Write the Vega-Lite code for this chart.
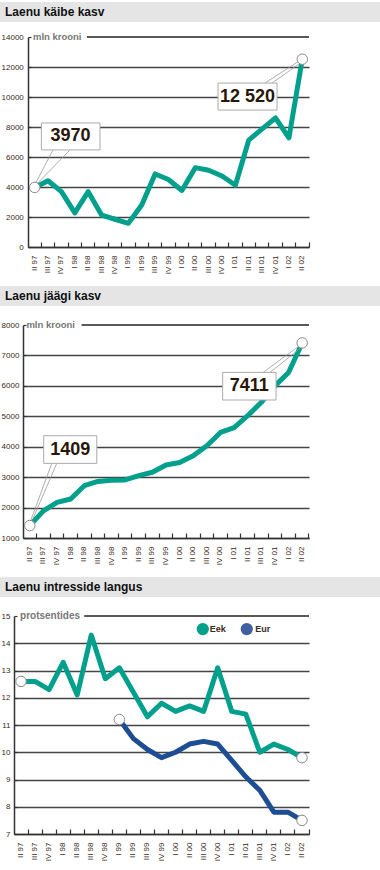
{
  "$schema": "https://vega.github.io/schema/vega-lite/v6.json",
  "padding": {"left": 0, "top": 2, "right": 0, "bottom": 0},
  "background": "white",
  "config": {
    "font": "Liberation Sans",
    "view": {"stroke": null},
    "axis": {"labelFont": "Liberation Sans", "labelOverlap": false}
  },
  "datasets": {
    "kaive": [
      {"q": "II 97", "v": 3970}, {"q": "III 97", "v": 4420}, {"q": "IV 97", "v": 3690},
      {"q": "I 98", "v": 2270}, {"q": "II 98", "v": 3690}, {"q": "III 98", "v": 2130},
      {"q": "IV 98", "v": 1850}, {"q": "I 99", "v": 1580}, {"q": "II 99", "v": 2800},
      {"q": "III 99", "v": 4870}, {"q": "IV 99", "v": 4500}, {"q": "I 00", "v": 3770},
      {"q": "II 00", "v": 5290}, {"q": "III 00", "v": 5120}, {"q": "IV 00", "v": 4730},
      {"q": "I 01", "v": 4120}, {"q": "II 01", "v": 7130}, {"q": "III 01", "v": 7870},
      {"q": "IV 01", "v": 8600}, {"q": "I 02", "v": 7280}, {"q": "II 02", "v": 12520}
    ],
    "jaak": [
      {"q": "II 97", "v": 1409}, {"q": "III 97", "v": 1890}, {"q": "IV 97", "v": 2170},
      {"q": "I 98", "v": 2280}, {"q": "II 98", "v": 2720}, {"q": "III 98", "v": 2860},
      {"q": "IV 98", "v": 2900}, {"q": "I 99", "v": 2910}, {"q": "II 99", "v": 3050},
      {"q": "III 99", "v": 3160}, {"q": "IV 99", "v": 3400}, {"q": "I 00", "v": 3480},
      {"q": "II 00", "v": 3700}, {"q": "III 00", "v": 4030}, {"q": "IV 00", "v": 4470},
      {"q": "I 01", "v": 4630}, {"q": "II 01", "v": 5020}, {"q": "III 01", "v": 5460},
      {"q": "IV 01", "v": 6000}, {"q": "I 02", "v": 6440}, {"q": "II 02", "v": 7411}
    ],
    "intress": [
      {"q": "II 97", "s": "Eek", "v": 12.6}, {"q": "III 97", "s": "Eek", "v": 12.6},
      {"q": "IV 97", "s": "Eek", "v": 12.3}, {"q": "I 98", "s": "Eek", "v": 13.3},
      {"q": "II 98", "s": "Eek", "v": 12.1}, {"q": "III 98", "s": "Eek", "v": 14.3},
      {"q": "IV 98", "s": "Eek", "v": 12.7}, {"q": "I 99", "s": "Eek", "v": 13.1},
      {"q": "II 99", "s": "Eek", "v": 12.2}, {"q": "III 99", "s": "Eek", "v": 11.3},
      {"q": "IV 99", "s": "Eek", "v": 11.8}, {"q": "I 00", "s": "Eek", "v": 11.5},
      {"q": "II 00", "s": "Eek", "v": 11.7}, {"q": "III 00", "s": "Eek", "v": 11.5},
      {"q": "IV 00", "s": "Eek", "v": 13.1}, {"q": "I 01", "s": "Eek", "v": 11.5},
      {"q": "II 01", "s": "Eek", "v": 11.4}, {"q": "III 01", "s": "Eek", "v": 10.0},
      {"q": "IV 01", "s": "Eek", "v": 10.3}, {"q": "I 02", "s": "Eek", "v": 10.1},
      {"q": "II 02", "s": "Eek", "v": 9.8},
      {"q": "I 99", "s": "Eur", "v": 11.2}, {"q": "II 99", "s": "Eur", "v": 10.5},
      {"q": "III 99", "s": "Eur", "v": 10.1}, {"q": "IV 99", "s": "Eur", "v": 9.8},
      {"q": "I 00", "s": "Eur", "v": 10.0}, {"q": "II 00", "s": "Eur", "v": 10.3},
      {"q": "III 00", "s": "Eur", "v": 10.4}, {"q": "IV 00", "s": "Eur", "v": 10.3},
      {"q": "I 01", "s": "Eur", "v": 9.7}, {"q": "II 01", "s": "Eur", "v": 9.1},
      {"q": "III 01", "s": "Eur", "v": 8.6}, {"q": "IV 01", "s": "Eur", "v": 7.8},
      {"q": "I 02", "s": "Eur", "v": 7.8}, {"q": "II 02", "s": "Eur", "v": 7.5}
    ]
  },
  "spacing": 12,
  "vconcat": [
    {
      "spacing": 10,
      "vconcat": [
        {
          "data": {"values": [{"t": "Laenu käibe kasv"}]},
          "width": 380, "height": 20,
          "view": {"fill": "#e5e5e5", "stroke": null},
          "mark": {"type": "text", "align": "left", "baseline": "middle", "dx": 5, "fontSize": 12, "fontWeight": "bold", "color": "#111"},
          "encoding": {
            "text": {"field": "t"},
            "x": {"datum": 0, "type": "quantitative", "scale": {"domain": [0, 1]}, "axis": null}
          }
        },
        {
          "spacing": 0,
          "hconcat": [
            {
              "data": {"values": [{}]},
              "width": 1, "height": 1,
              "mark": {"type": "rect", "color": "white"},
              "encoding": {}
            },
            {
              "width": 281, "height": 210,
              "layer": [
                {
                  "data": {"values": [{}]},
                  "mark": {"type": "rule", "color": "#222", "strokeWidth": 1.3},
                  "encoding": {
                    "x": {"datum": "II 98", "type": "ordinal", "bandPosition": 0.4, "title": null},
                    "x2": {"datum": "II 02", "bandPosition": 1},
                    "y": {"datum": 14000, "type": "quantitative", "title": null}
                  }
                },
                {
                  "data": {"values": [{}]},
                  "mark": {"type": "text", "text": "mln krooni", "align": "left", "baseline": "middle", "fontSize": 9.5, "fontWeight": "bold", "color": "#777"},
                  "encoding": {
                    "x": {"datum": "II 97", "type": "ordinal", "bandPosition": 0.37, "title": null},
                    "y": {"datum": 14000, "type": "quantitative", "title": null}
                  }
                },
                {
                  "data": {"name": "kaive"},
                  "mark": {"type": "line", "color": "#00a08c", "strokeWidth": 5, "strokeJoin": "round"},
                  "encoding": {
                    "x": {"field": "q", "type": "ordinal", "sort": null, "bandPosition": 0.5,
                      "scale": {"type": "band", "paddingInner": 0, "paddingOuter": 0,
                        "domain": ["II 97","III 97","IV 97","I 98","II 98","III 98","IV 98","I 99","II 99","III 99","IV 99","I 00","II 00","III 00","IV 00","I 01","II 01","III 01","IV 01","I 02","II 02"]},
                      "axis": {"title": null, "bandPosition": 1, "labelAngle": -90, "labelFontSize": 8, "labelColor": "#3a2a20", "tickSize": -5, "tickColor": "#333", "tickWidth": 1.2, "domainColor": "#333", "domainWidth": 1.5, "labelPadding": 13, "grid": false}},
                    "y": {"field": "v", "type": "quantitative", "scale": {"domain": [0, 14000], "nice": false},
                      "axis": {"title": null, "values": [0,2000,4000,6000,8000,10000,12000,14000], "tickCount": 30, "format": "d", "labelOverlap": false, "labelFontSize": 8, "labelColor": "#3a2a20", "tickSize": -3, "tickColor": "#333", "tickWidth": 1.2, "labelPadding": 7.7, "labelFlush": false, "domainColor": "#333", "domainWidth": 1.5, "grid": true, "gridColor": "#444", "gridWidth": 1.3,
                        "gridOpacity": {"condition": {"test": "datum.value == 14000", "value": 0}, "value": 1}}}
                  }
                },
                {
                  "data": {"values": [{}]},
                  "mark": {"type": "rule", "color": "#999", "strokeWidth": 0.8},
                  "encoding": {
                    "x": {"datum": "III 97", "type": "ordinal", "bandPosition": 0.87, "title": null},
                    "x2": {"datum": "II 97", "bandPosition": 0.45},
                    "y": {"datum": 6470, "type": "quantitative", "title": null},
                    "y2": {"datum": 4050}
                  }
                },
                {
                  "data": {"values": [{}]},
                  "mark": {"type": "rule", "color": "#999", "strokeWidth": 0.8},
                  "encoding": {
                    "x": {"datum": "I 98", "type": "ordinal", "bandPosition": 0.14, "title": null},
                    "x2": {"datum": "II 97", "bandPosition": 0.6},
                    "y": {"datum": 6470, "type": "quantitative", "title": null},
                    "y2": {"datum": 4150}
                  }
                },
                {
                  "data": {"values": [{}]},
                  "mark": {"type": "rule", "color": "#999", "strokeWidth": 0.8},
                  "encoding": {
                    "x": {"datum": "III 01", "type": "ordinal", "bandPosition": 0.71, "title": null},
                    "x2": {"datum": "II 02", "bandPosition": 0.3},
                    "y": {"datum": 10930, "type": "quantitative", "title": null},
                    "y2": {"datum": 12420}
                  }
                },
                {
                  "data": {"values": [{}]},
                  "mark": {"type": "rule", "color": "#999", "strokeWidth": 0.8},
                  "encoding": {
                    "x": {"datum": "IV 01", "type": "ordinal", "bandPosition": 0.24, "title": null},
                    "x2": {"datum": "II 02", "bandPosition": 0.4},
                    "y": {"datum": 10930, "type": "quantitative", "title": null},
                    "y2": {"datum": 12300}
                  }
                },
                {
                  "data": {"name": "kaive"},
                  "transform": [{"filter": "datum.q == 'II 97' || datum.q == 'II 02'"}],
                  "mark": {"type": "circle", "color": "white", "opacity": 1, "stroke": "#888", "strokeWidth": 1, "size": 110},
                  "encoding": {
                    "x": {"field": "q", "type": "ordinal", "sort": null, "bandPosition": 0.5, "title": null},
                    "y": {"field": "v", "type": "quantitative", "title": null}
                  }
                },
                {
                  "data": {"values": [{}]},
                  "mark": {"type": "rect", "fill": "white", "stroke": "#aaa", "strokeWidth": 1},
                  "encoding": {
                    "x": {"datum": "III 97", "type": "ordinal", "bandPosition": 0, "title": null},
                    "x2": {"datum": "III 98", "bandPosition": 0.38},
                    "y": {"datum": 8270, "type": "quantitative", "title": null},
                    "y2": {"datum": 6470}
                  }
                },
                {
                  "data": {"values": [{}]},
                  "mark": {"type": "rect", "fill": "white", "stroke": "#aaa", "strokeWidth": 1},
                  "encoding": {
                    "x": {"datum": "IV 00", "type": "ordinal", "bandPosition": 0.2, "title": null},
                    "x2": {"datum": "IV 01", "bandPosition": 0.61},
                    "y": {"datum": 10930, "type": "quantitative", "title": null},
                    "y2": {"datum": 9130}
                  }
                },
                {
                  "data": {"values": [{}]},
                  "mark": {"type": "text", "text": "3970", "align": "center", "baseline": "middle", "fontSize": 18, "fontWeight": "bold", "color": "#2a1608"},
                  "encoding": {
                    "x": {"datum": "I 98", "type": "ordinal", "bandPosition": 0.18, "title": null},
                    "y": {"datum": 7370, "type": "quantitative", "title": null}
                  }
                },
                {
                  "data": {"values": [{}]},
                  "mark": {"type": "text", "text": "12 520", "align": "center", "baseline": "middle", "fontSize": 18, "fontWeight": "bold", "color": "#2a1608"},
                  "encoding": {
                    "x": {"datum": "II 01", "type": "ordinal", "bandPosition": 0.4, "title": null},
                    "y": {"datum": 10030, "type": "quantitative", "title": null}
                  }
                }
              ]
            }
          ]
        }
      ]
    },
    {
      "spacing": 14,
      "vconcat": [
        {
          "data": {"values": [{"t": "Laenu jäägi kasv"}]},
          "width": 380, "height": 20,
          "view": {"fill": "#e5e5e5", "stroke": null},
          "mark": {"type": "text", "align": "left", "baseline": "middle", "dx": 5, "fontSize": 12, "fontWeight": "bold", "color": "#111"},
          "encoding": {
            "text": {"field": "t"},
            "x": {"datum": 0, "type": "quantitative", "scale": {"domain": [0, 1]}, "axis": null}
          }
        },
        {
          "spacing": 0,
          "hconcat": [
            {
              "data": {"values": [{}]},
              "width": 1, "height": 1,
              "mark": {"type": "rect", "color": "white"},
              "encoding": {}
            },
            {
              "width": 286, "height": 213,
              "layer": [
                {
                  "data": {"values": [{}]},
                  "mark": {"type": "rule", "color": "#222", "strokeWidth": 1.3},
                  "encoding": {
                    "x": {"datum": "II 98", "type": "ordinal", "bandPosition": 0.3, "title": null},
                    "x2": {"datum": "II 02", "bandPosition": 1},
                    "y": {"datum": 8000, "type": "quantitative", "title": null}
                  }
                },
                {
                  "data": {"values": [{}]},
                  "mark": {"type": "text", "text": "mln krooni", "align": "left", "baseline": "middle", "fontSize": 9.5, "fontWeight": "bold", "color": "#777"},
                  "encoding": {
                    "x": {"datum": "II 97", "type": "ordinal", "bandPosition": 0.25, "title": null},
                    "y": {"datum": 8000, "type": "quantitative", "title": null}
                  }
                },
                {
                  "data": {"name": "jaak"},
                  "mark": {"type": "line", "color": "#00a08c", "strokeWidth": 5, "strokeJoin": "round"},
                  "encoding": {
                    "x": {"field": "q", "type": "ordinal", "sort": null, "bandPosition": 0.5,
                      "scale": {"type": "band", "paddingInner": 0, "paddingOuter": 0,
                        "domain": ["II 97","III 97","IV 97","I 98","II 98","III 98","IV 98","I 99","II 99","III 99","IV 99","I 00","II 00","III 00","IV 00","I 01","II 01","III 01","IV 01","I 02","II 02"]},
                      "axis": {"title": null, "bandPosition": 1, "labelAngle": -90, "labelFontSize": 8, "labelColor": "#3a2a20", "tickSize": -5, "tickColor": "#333", "tickWidth": 1.2, "domainColor": "#333", "domainWidth": 1.5, "labelPadding": 13, "grid": false}},
                    "y": {"field": "v", "type": "quantitative", "scale": {"domain": [1000, 8000], "nice": false, "zero": false},
                      "axis": {"title": null, "values": [1000,2000,3000,4000,5000,6000,7000,8000], "tickCount": 30, "format": "d", "labelOverlap": false, "labelFontSize": 8, "labelColor": "#3a2a20", "tickSize": -3, "tickColor": "#333", "tickWidth": 1.2, "labelPadding": 7.1, "labelFlush": false, "domainColor": "#333", "domainWidth": 1.5, "grid": true, "gridColor": "#444", "gridWidth": 1.3,
                        "gridOpacity": {"condition": {"test": "datum.value == 8000", "value": 0}, "value": 1}}}
                  }
                },
                {
                  "data": {"values": [{}]},
                  "mark": {"type": "rule", "color": "#999", "strokeWidth": 0.8},
                  "encoding": {
                    "x": {"datum": "IV 97", "type": "ordinal", "bandPosition": 0.11, "title": null},
                    "x2": {"datum": "II 97", "bandPosition": 0.55},
                    "y": {"datum": 3452, "type": "quantitative", "title": null},
                    "y2": {"datum": 1550}
                  }
                },
                {
                  "data": {"values": [{}]},
                  "mark": {"type": "rule", "color": "#999", "strokeWidth": 0.8},
                  "encoding": {
                    "x": {"datum": "IV 97", "type": "ordinal", "bandPosition": 0.48, "title": null},
                    "x2": {"datum": "II 97", "bandPosition": 0.7},
                    "y": {"datum": 3452, "type": "quantitative", "title": null},
                    "y2": {"datum": 1600}
                  }
                },
                {
                  "data": {"values": [{}]},
                  "mark": {"type": "rule", "color": "#999", "strokeWidth": 0.8},
                  "encoding": {
                    "x": {"datum": "III 01", "type": "ordinal", "bandPosition": 0.63, "title": null},
                    "x2": {"datum": "II 02", "bandPosition": 0.25},
                    "y": {"datum": 6442, "type": "quantitative", "title": null},
                    "y2": {"datum": 7300}
                  }
                },
                {
                  "data": {"values": [{}]},
                  "mark": {"type": "rule", "color": "#999", "strokeWidth": 0.8},
                  "encoding": {
                    "x": {"datum": "IV 01", "type": "ordinal", "bandPosition": 0.14, "title": null},
                    "x2": {"datum": "II 02", "bandPosition": 0.35},
                    "y": {"datum": 6442, "type": "quantitative", "title": null},
                    "y2": {"datum": 7230}
                  }
                },
                {
                  "data": {"name": "jaak"},
                  "transform": [{"filter": "datum.q == 'II 97' || datum.q == 'II 02'"}],
                  "mark": {"type": "circle", "color": "white", "opacity": 1, "stroke": "#888", "strokeWidth": 1, "size": 110},
                  "encoding": {
                    "x": {"field": "q", "type": "ordinal", "sort": null, "bandPosition": 0.5, "title": null},
                    "y": {"field": "v", "type": "quantitative", "title": null}
                  }
                },
                {
                  "data": {"values": [{}]},
                  "mark": {"type": "rect", "fill": "white", "stroke": "#aaa", "strokeWidth": 1},
                  "encoding": {
                    "x": {"datum": "III 97", "type": "ordinal", "bandPosition": 0.52, "title": null},
                    "x2": {"datum": "III 98", "bandPosition": 0.42},
                    "y": {"datum": 4362, "type": "quantitative", "title": null},
                    "y2": {"datum": 3452}
                  }
                },
                {
                  "data": {"values": [{}]},
                  "mark": {"type": "rect", "fill": "white", "stroke": "#aaa", "strokeWidth": 1},
                  "encoding": {
                    "x": {"datum": "IV 00", "type": "ordinal", "bandPosition": 0.66, "title": null},
                    "x2": {"datum": "IV 01", "bandPosition": 0.58},
                    "y": {"datum": 6442, "type": "quantitative", "title": null},
                    "y2": {"datum": 5535}
                  }
                },
                {
                  "data": {"values": [{}]},
                  "mark": {"type": "text", "text": "1409", "align": "center", "baseline": "middle", "fontSize": 18, "fontWeight": "bold", "color": "#2a1608"},
                  "encoding": {
                    "x": {"datum": "I 98", "type": "ordinal", "bandPosition": 0.47, "title": null},
                    "y": {"datum": 3902, "type": "quantitative", "title": null}
                  }
                },
                {
                  "data": {"values": [{}]},
                  "mark": {"type": "text", "text": "7411", "align": "center", "baseline": "middle", "fontSize": 18, "fontWeight": "bold", "color": "#2a1608"},
                  "encoding": {
                    "x": {"datum": "II 01", "type": "ordinal", "bandPosition": 0.62, "title": null},
                    "y": {"datum": 5988, "type": "quantitative", "title": null}
                  }
                }
              ]
            }
          ]
        }
      ]
    },
    {
      "spacing": 14,
      "vconcat": [
        {
          "data": {"values": [{"t": "Laenu intresside langus"}]},
          "width": 380, "height": 20,
          "view": {"fill": "#e5e5e5", "stroke": null},
          "mark": {"type": "text", "align": "left", "baseline": "middle", "dx": 5, "fontSize": 12, "fontWeight": "bold", "color": "#111"},
          "encoding": {
            "text": {"field": "t"},
            "x": {"datum": 0, "type": "quantitative", "scale": {"domain": [0, 1]}, "axis": null}
          }
        },
        {
          "spacing": 0,
          "hconcat": [
            {
              "data": {"values": [{}]},
              "width": 1, "height": 1,
              "mark": {"type": "rect", "color": "white"},
              "encoding": {}
            },
            {
              "width": 295, "height": 218,
              "layer": [
                {
                  "data": {"values": [{}]},
                  "mark": {"type": "rule", "color": "#222", "strokeWidth": 1.3},
                  "encoding": {
                    "x": {"datum": "III 98", "type": "ordinal", "bandPosition": 0, "title": null},
                    "x2": {"datum": "II 02", "bandPosition": 1},
                    "y": {"datum": 15, "type": "quantitative", "title": null}
                  }
                },
                {
                  "data": {"values": [{}]},
                  "mark": {"type": "text", "text": "protsentides", "align": "left", "baseline": "middle", "fontSize": 10, "fontWeight": "bold", "color": "#777"},
                  "encoding": {
                    "x": {"datum": "II 97", "type": "ordinal", "bandPosition": 0.43, "title": null},
                    "y": {"datum": 15, "type": "quantitative", "title": null}
                  }
                },
                {
                  "data": {"name": "intress"},
                  "mark": {"type": "line", "strokeWidth": 5, "strokeJoin": "round"},
                  "encoding": {
                    "x": {"field": "q", "type": "ordinal", "sort": null, "bandPosition": 0.5,
                      "scale": {"type": "band", "paddingInner": 0, "paddingOuter": 0,
                        "domain": ["II 97","III 97","IV 97","I 98","II 98","III 98","IV 98","I 99","II 99","III 99","IV 99","I 00","II 00","III 00","IV 00","I 01","II 01","III 01","IV 01","I 02","II 02"]},
                      "axis": {"title": null, "bandPosition": 1, "labelAngle": -90, "labelFontSize": 8, "labelColor": "#3a2a20", "tickSize": -5, "tickColor": "#333", "tickWidth": 1.2, "domainColor": "#333", "domainWidth": 1.5, "labelPadding": 13, "grid": false}},
                    "y": {"field": "v", "type": "quantitative", "scale": {"domain": [7, 15], "nice": false, "zero": false},
                      "axis": {"title": null, "values": [7,8,9,10,11,12,13,14,15], "tickCount": 30, "format": "d", "labelOverlap": false, "labelFontSize": 8, "labelColor": "#3a2a20", "tickSize": -3, "tickColor": "#333", "tickWidth": 1.2, "labelPadding": 7.0, "labelFlush": false, "domainColor": "#333", "domainWidth": 1.5, "grid": true, "gridColor": "#444", "gridWidth": 1.3,
                        "gridOpacity": {"condition": {"test": "datum.value == 15", "value": 0}, "value": 1}}},
                    "color": {"field": "s", "type": "nominal",
                      "scale": {"domain": ["Eek", "Eur"], "range": ["#00a08c", "#1d4d92"]},
                      "legend": null}
                  }
                },
                {
                  "data": {"name": "intress"},
                  "transform": [{"filter": "(datum.s == 'Eek' && (datum.q == 'II 97' || datum.q == 'II 02')) || (datum.s == 'Eur' && (datum.q == 'I 99' || datum.q == 'II 02'))"}],
                  "mark": {"type": "circle", "color": "white", "opacity": 1, "stroke": "#888", "strokeWidth": 1, "size": 110},
                  "encoding": {
                    "x": {"field": "q", "type": "ordinal", "sort": null, "bandPosition": 0.5, "title": null},
                    "y": {"field": "v", "type": "quantitative", "title": null}
                  }
                },
                {
                  "data": {"values": [{}]},
                  "mark": {"type": "circle", "color": "#00a08c", "opacity": 1, "size": 150},
                  "encoding": {
                    "x": {"datum": "III 00", "type": "ordinal", "bandPosition": 0.44, "title": null},
                    "y": {"datum": 14.52, "type": "quantitative", "title": null}
                  }
                },
                {
                  "data": {"values": [{}]},
                  "mark": {"type": "circle", "color": "#3f5fa0", "opacity": 1, "size": 150},
                  "encoding": {
                    "x": {"datum": "II 01", "type": "ordinal", "bandPosition": 0.57, "title": null},
                    "y": {"datum": 14.52, "type": "quantitative", "title": null}
                  }
                },
                {
                  "data": {"values": [{}]},
                  "mark": {"type": "text", "text": "Eek", "align": "left", "baseline": "middle", "fontSize": 9, "fontWeight": "bold", "color": "#3a2a20"},
                  "encoding": {
                    "x": {"datum": "III 00", "type": "ordinal", "bandPosition": 0.94, "title": null},
                    "y": {"datum": 14.52, "type": "quantitative", "title": null}
                  }
                },
                {
                  "data": {"values": [{}]},
                  "mark": {"type": "text", "text": "Eur", "align": "left", "baseline": "middle", "fontSize": 9, "fontWeight": "bold", "color": "#3a2a20"},
                  "encoding": {
                    "x": {"datum": "III 01", "type": "ordinal", "bandPosition": 0.18, "title": null},
                    "y": {"datum": 14.52, "type": "quantitative", "title": null}
                  }
                }
              ]
            }
          ]
        }
      ]
    }
  ]
}
